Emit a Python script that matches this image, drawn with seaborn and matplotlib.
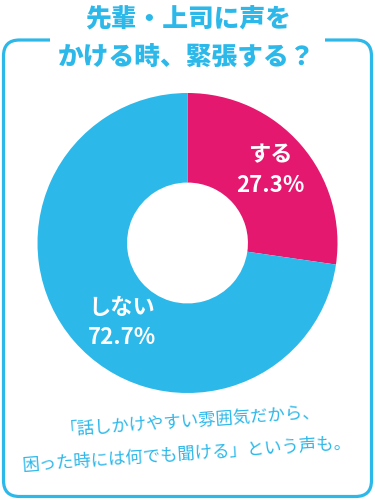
import matplotlib
matplotlib.use("Agg")
import matplotlib.pyplot as plt
from matplotlib.patches import FancyBboxPatch, Rectangle
import seaborn as sns

sns.set_theme(style="white")
plt.rcParams['font.family'] = ['Noto Sans CJK JP', 'DejaVu Sans']

# Data
categories = ["する", "しない"]
values = [27.3, 72.7]
title_lines = ["先輩・上司に声を", "かける時、緊張する？"]
note_lines = ["「話しかけやすい雰囲気だから、", "困った時には何でも聞ける」という声も。"]

BLUE = "#2DB8EA"
PINK = "#E5186F"
colors = [PINK, BLUE]

W, H = 375, 500
fig = plt.figure(figsize=(W / 100, H / 100), dpi=100)
fig.patch.set_facecolor("white")

# overlay axes in pixel coordinates
ax0 = fig.add_axes([0, 0, 1, 1])
ax0.set_xlim(0, W)
ax0.set_ylim(H, 0)
ax0.axis("off")

border = FancyBboxPatch((3.5 + 16, 40 + 16), 368 - 32, 456.5 - 32,
                        boxstyle="round,pad=16", fill=False,
                        edgecolor=BLUE, linewidth=2.3, zorder=1)
ax0.add_patch(border)
ax0.add_patch(Rectangle((50, 30), 275, 20, facecolor="white", edgecolor="none", zorder=2))

ax0.text(188, 19, title_lines[0], ha="center", va="center", fontsize=18.5,
         fontweight="heavy", color=BLUE, zorder=3)
ax0.text(187, 58, title_lines[1], ha="center", va="center", fontsize=18.5,
         fontweight="heavy", color=BLUE, zorder=3)

ax0.text(190, 421, note_lines[0], ha="center", va="center", fontsize=12.5,
         color=BLUE, rotation=4, rotation_mode="anchor", zorder=3)
ax0.text(187, 454, note_lines[1], ha="center", va="center", fontsize=12.5,
         color=BLUE, rotation=4, rotation_mode="anchor", zorder=3)

# donut axes
cx, cy, R = 187.5, 243, 150
axp = fig.add_axes([(cx - R) / W, (H - cy - R) / H, 2 * R / W, 2 * R / H])
axp.pie(values, colors=colors, startangle=90, counterclock=False, radius=1,
        wedgeprops=dict(width=1 - 0.403, edgecolor="none"))
axp.set_xlim(-1, 1)
axp.set_ylim(-1, 1)
axp.set_aspect("equal")
axp.axis("off")

# label layer on top
axl = fig.add_axes([0, 0, 1, 1])
axl.set_xlim(0, W)
axl.set_ylim(H, 0)
axl.axis("off")

label_pos = [(270, 170), (122, 322)]
for cat, val, (lx, ly) in zip(categories, values, label_pos):
    axl.text(lx, ly - 15, cat, ha="center", va="center", fontsize=16,
             fontweight="bold", color="white")
    axl.text(lx, ly + 15, f"{val:.1f}%", ha="center", va="center", fontsize=16,
             fontweight="bold", color="white")

fig.savefig("out.png", dpi=100, facecolor="white")
